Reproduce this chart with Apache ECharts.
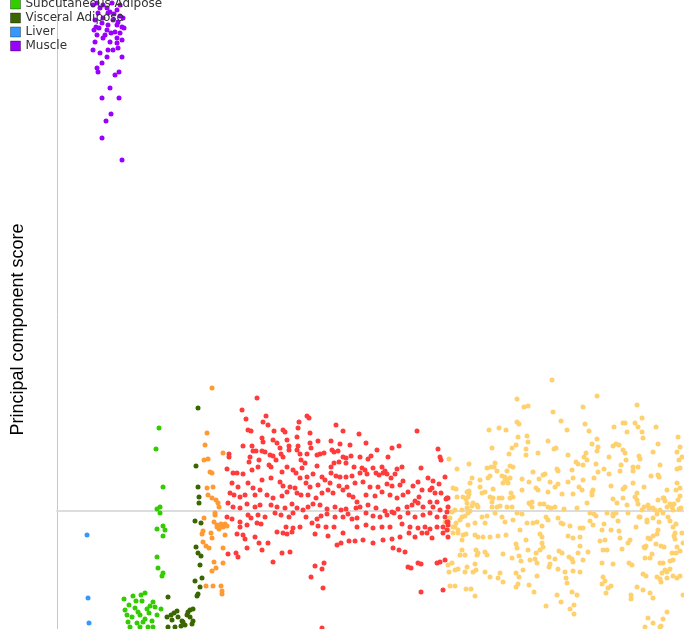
<!DOCTYPE html>
<html>
<head>
<meta charset="utf-8">
<script src="https://cdn.jsdelivr.net/npm/echarts@6/dist/echarts.min.js"></script>
<style>
html,body{margin:0;padding:0;background:#fff;}
#chart{width:684px;height:629px;}
</style>
</head>
<body>
<div id="chart"></div>
<script>
// [sample index, principal component score]
const legendNames = ['Subcutaneous Adipose', 'Visceral Adipose', 'Liver', 'Muscle'];
const yAxisTitle = 'Principal component score';

const muscle = [[40,508],[46,506],[53,499],[41,498],[66,493],[38,491],[45,488],[51,486],[60,486],[65,484],[50,481],[58,479],[63,478],[40,476],[46,473],[53,469],[60,468],[65,471],[36,461],[43,458],[51,461],[56,461],[61,463],[65,454],[50,454],[45,448],[40,443],[41,439],[58,436],[62,439],[53,423],[45,413],[62,413],[54,397],[49,390],[45,373],[65,351],[36,506],[43,503],[60,501],[55,508],[63,495],[46,493],[51,498],[39,484],[37,481],[42,483],[56,491],[61,489],[48,476],[54,478],[38,469],[60,473],[67,483],[50,503],[57,497],[63,506]];

const liver = [[30,-24],[31,-87],[32,-112]];

const subcutaneous = [[102,83],[99,62],[106,24],[103,4],[100,2],[103,-2],[100,-18],[106,-15],[108,-19],[106,-25],[100,-46],[101,-57],[106,-62],[105,-65],[67,-88],[76,-85],[84,-84],[88,-82],[85,-90],[96,-91],[68,-99],[78,-97],[90,-98],[98,-96],[104,-98],[70,-104],[75,-106],[83,-104],[92,-102],[100,-104],[71,-111],[80,-112],[86,-111],[95,-110],[73,-116],[83,-116],[91,-116],[96,-116],[72,-94],[81,-101],[88,-108],[93,-95],[79,-90]];

const visceral = [[141,103],[139,45],[141,24],[142,14],[142,8],[138,-10],[144,-12],[139,-36],[141,-42],[144,-45],[143,-54],[138,-70],[145,-67],[143,-76],[141,-83],[140,-85],[111,-86],[110,-106],[117,-102],[115,-109],[121,-106],[125,-110],[130,-104],[133,-99],[136,-98],[133,-106],[136,-110],[128,-114],[111,-116],[118,-116],[114,-104],[120,-100],[126,-111],[124,-115],[131,-101],[135,-113]];

const orangeGroup = [[155,123],[150,78],[148,66],[147,51],[151,52],[166,58],[153,39],[155,38],[150,23],[156,24],[151,16],[155,13],[159,11],[161,8],[162,4],[158,-2],[158,-4],[147,-7],[160,-14],[164,-13],[168,-13],[162,-18],[146,-20],[154,-22],[145,-23],[155,-27],[168,-24],[146,-31],[149,-35],[152,-37],[166,-37],[157,-51],[166,-52],[159,-57],[155,-60],[149,-75],[156,-75],[164,-75],[165,-80],[165,-83],[163,-15],[170,-15],[166,-16],[160,-16],[157,-11]];

const redGroup = [[200,113],[185,101],[189,92],[209,95],[206,89],[211,86],[250,95],[252,93],[242,89],[279,86],[286,80],[302,77],[360,80],[191,81],[194,80],[217,80],[226,81],[228,79],[241,83],[253,78],[205,73],[206,69],[216,71],[220,68],[230,71],[240,74],[186,65],[195,65],[223,63],[232,65],[232,61],[241,65],[240,61],[253,68],[254,63],[261,70],[274,70],[283,67],[293,66],[275,61],[277,59],[281,60],[309,68],[320,61],[335,63],[342,65],[381,62],[172,57],[172,54],[196,60],[199,60],[205,60],[208,59],[213,56],[216,55],[224,57],[226,54],[243,57],[250,57],[260,56],[263,57],[267,58],[286,54],[289,53],[294,55],[303,54],[311,52],[314,55],[331,54],[383,54],[384,51],
[193,54],[192,49],[202,51],[212,46],[214,44],[219,51],[230,44],[236,41],[244,51],[248,48],[245,43],[260,45],[274,44],[277,48],[282,49],[289,48],[297,44],[305,43],[308,41],[316,43],[325,44],[326,38],[328,40],[340,42],[345,44],[364,43],[170,42],[176,38],[180,38],[186,37],[195,41],[201,44],[225,39],[239,38],[243,33],[250,34],[256,37],[265,34],[274,38],[279,35],[283,34],[289,34],[295,35],[303,38],[310,37],[319,38],[322,36],[330,37],[334,33],[338,37],[346,30],[356,25],[361,29],[371,33],[376,30],[382,27],[375,23],[384,18],[391,13],
[175,28],[181,24],[191,28],[196,23],[205,31],[214,33],[223,29],[226,25],[233,24],[238,23],[249,28],[253,24],[261,26],[268,31],[273,28],[282,25],[290,24],[298,28],[306,29],[313,24],[321,24],[330,27],[335,25],[343,26],[351,19],[365,21],[373,21],[378,18],[173,18],[177,16],[183,14],[188,16],[198,16],[203,21],[210,16],[216,13],[225,15],[230,19],[240,18],[244,16],[251,16],[259,13],[265,18],[271,21],[276,18],[286,21],[292,16],[296,14],[300,9],[309,16],[318,15],[325,19],[333,16],[340,13],[346,16],[358,10],[362,14],[373,9],[380,9],[389,12],
[171,8],[176,4],[183,3],[190,7],[198,4],[203,6],[214,6],[220,4],[228,3],[235,7],[240,3],[246,1],[251,4],[256,7],[263,6],[270,2],[278,4],[284,1],[289,2],[299,3],[303,4],[311,6],[319,3],[328,0],[335,-1],[341,2],[350,4],[355,6],[361,8],[366,4],[376,4],[383,1],[390,-1],[170,-6],[175,-8],[183,-11],[191,-4],[194,-7],[201,-4],[208,-6],[218,-2],[224,-4],[232,-6],[236,-2],[249,-6],[260,-8],[264,-5],[270,-3],[278,-6],[286,-6],[291,-3],[300,-7],[309,-2],[316,-5],[323,-6],[330,-4],[337,-2],[343,-6],[351,-2],[358,-6],[366,-4],[373,-2],[380,-6],[388,-6],
[183,-16],[190,-14],[200,-12],[204,-13],[220,-21],[229,-16],[236,-17],[243,-16],[255,-12],[261,-15],[269,-16],[277,-16],[295,-8],[300,-16],[309,-14],[316,-17],[325,-16],[333,-16],[345,-13],[353,-16],[361,-17],[368,-16],[373,-18],[380,-16],[386,-16],[391,-11],[180,-23],[186,-24],[188,-28],[198,-26],[226,-22],[230,-23],[235,-21],[258,-23],[271,-25],[286,-22],[298,-30],[306,-29],[316,-32],[326,-29],[335,-28],[343,-26],[352,-22],[358,-26],[365,-22],[370,-22],[375,-27],[386,-22],[202,-32],[211,-32],[205,-39],[190,-37],[179,-42],[181,-46],[171,-43],[233,-41],[225,-42],[280,-34],[284,-32],[292,-30],[336,-37],[342,-39],[348,-41],[216,-51],[258,-55],[265,-58],[267,-52],[254,-66],[266,-77],[351,-56],[354,-57],[361,-52],[364,-53],[380,-52],[383,-51],[364,-81],[386,-79],[265,-117],
[388,34],[390,13],[391,4],[390,-11],[391,-14],[390,-19],[391,-26],[388,-49]];

const yellowGroup = [[495,131],[540,115],[460,112],[580,106],[467,104],[471,105],[526,104],[496,99],[585,93],[460,89],[462,87],[504,90],[528,87],[566,88],[568,88],[578,88],[432,81],[442,83],[449,81],[510,81],[532,80],[557,84],[570,79],[581,84],[585,79],[599,84],[461,74],[470,75],[491,70],[471,69],[540,72],[586,73],[621,74],[435,63],[455,63],[459,66],[469,62],[497,62],[499,63],[535,67],[541,64],[540,60],[556,65],[559,67],[562,66],[566,61],[568,58],[601,67],[596,59],[620,59],[623,64],[452,57],[469,56],[481,58],[511,56],[519,49],[521,47],[527,54],[529,58],[530,51],[526,46],[539,47],[552,54],[569,51],[583,52],[582,55],[603,46],[622,51],[625,54],[412,47],[392,52],[430,43],[434,44],[438,48],[437,44],[440,40],[453,45],[450,40],[456,44],[476,39],[486,36],[488,37],[500,42],[501,40],[515,41],[537,33],[541,39],[547,42],[552,37],[563,40],[564,46],[576,44],[576,40],[581,44],[594,35],[601,36],[602,34],[620,42],[620,28],
[415,33],[423,31],[431,33],[433,35],[445,35],[448,34],[450,31],[453,33],[446,28],[451,28],[448,31],[465,32],[472,29],[482,32],[493,29],[501,27],[498,24],[511,29],[516,33],[522,24],[526,31],[554,25],[566,22],[568,24],[576,28],[580,18],[587,24],[610,21],[623,23],[396,23],[399,22],[410,19],[406,14],[411,14],[423,24],[425,18],[428,19],[436,22],[433,14],[436,13],[442,13],[445,13],[435,9],[454,18],[456,14],[453,13],[465,21],[472,8],[475,9],[479,23],[481,21],[491,19],[505,17],[516,17],[525,21],[535,19],[536,21],[535,16],[556,12],[560,8],[566,13],[570,6],[578,14],[580,11],[581,7],[591,6],[601,11],[606,13],[608,10],[615,5],[617,7],[621,11],
[416,8],[415,5],[391,4],[398,1],[410,3],[413,0],[405,1],[420,6],[421,4],[435,4],[440,4],[443,5],[450,4],[455,4],[460,-2],[465,-3],[473,7],[475,4],[483,7],[487,7],[491,4],[494,3],[498,4],[507,2],[520,3],[530,8],[533,-2],[537,-3],[539,-5],[550,-2],[556,-3],[559,-2],[571,-2],[585,1],[587,4],[583,-6],[592,3],[603,1],[606,-2],[610,4],[613,7],[615,4],[622,2],
[395,-1],[405,-6],[408,-5],[399,-12],[403,-9],[396,-16],[388,-11],[393,-7],[411,-14],[418,-12],[425,-6],[430,-5],[428,-12],[438,-2],[445,-6],[448,-11],[456,-9],[470,-12],[476,-12],[480,-11],[485,-15],[489,-6],[491,-9],[501,-7],[504,-12],[506,-13],[513,-15],[523,-17],[526,-17],[533,-10],[536,-14],[545,-19],[547,-13],[554,-19],[556,-5],[561,-10],[562,-20],[579,-16],[582,-6],[590,-9],[596,-7],[601,-19],[611,-6],[613,-10],[616,-16],[619,-13],
[391,-19],[396,-22],[401,-22],[406,-24],[409,-23],[418,-24],[421,-26],[426,-26],[433,-26],[441,-25],[449,-24],[463,-19],[469,-29],[483,-23],[485,-26],[511,-25],[516,-27],[523,-26],[543,-30],[548,-29],[563,-27],[573,-29],[571,-32],[591,-27],[596,-25],[600,-23],[589,-35],[588,-37],[604,-35],[618,-28],[620,-36],
[405,-39],[408,-44],[403,-44],[419,-39],[421,-42],[430,-44],[428,-41],[446,-43],[459,-33],[460,-37],[455,-47],[462,-45],[464,-50],[471,-39],[479,-42],[483,-39],[478,-48],[480,-52],[485,-32],[486,-36],[492,-46],[498,-48],[493,-53],[502,-40],[505,-42],[512,-46],[515,-48],[516,-51],[521,-42],[523,-35],[526,-49],[531,-41],[545,-52],[546,-39],[550,-39],[556,-53],[565,-38],[572,-52],[575,-54],[588,-47],[587,-36],[595,-43],[606,-52],[615,-42],[616,-49],[623,-40],
[391,-54],[395,-52],[392,-61],[398,-59],[401,-58],[408,-61],[410,-56],[416,-61],[419,-59],[418,-53],[428,-61],[433,-66],[443,-62],[441,-67],[446,-71],[459,-62],[462,-66],[466,-59],[473,-49],[480,-65],[492,-56],[501,-58],[508,-61],[509,-67],[510,-72],[516,-60],[523,-61],[546,-66],[548,-70],[545,-73],[551,-77],[554,-75],[549,-82],[574,-84],[574,-88],[586,-63],[589,-65],[600,-66],[603,-68],[605,-62],[608,-59],[613,-58],[610,-67],[620,-67],[623,-65],
[393,-75],[398,-75],[409,-78],[414,-78],[418,-85],[459,-76],[461,-73],[472,-74],[477,-81],[489,-95],[500,-84],[504,-91],[515,-81],[513,-98],[520,-84],[517,-94],[517,-103],[580,-76],[586,-79],[593,-82],[596,-87],[591,-107],[596,-112],[606,-108],[610,-101],[604,-115],[626,-84],
[623,43],[623,15],[619,21],[607,13],[596,3],[598,1],[600,-3],[616,1],[624,3],[602,-11],[590,-11],[618,-22],[617,-25],[625,-22],[626,-32],[593,-28],[599,-33],[607,-36],[619,-42],[593,-47],[603,-52],[613,-50],[610,-61],[616,-65],[604,-71],[603,-116],[588,-116],
[400,42],[400,14],[411,-2],[398,-16],[401,-19],[405,-29],[420,-44],[413,28],[412,20],[412,17],[409,12],[410,8]];

const xMin = 0, xMax = 627, yMin = -118, yMax = 511;

const chart = echarts.init(document.getElementById('chart'), null, {renderer: 'canvas'});

function sc(name, data, color) {
  return {
    name: name, type: 'scatter', data: data, symbolSize: 5,
    itemStyle: {color: color, opacity: 1},
    emphasis: {disabled: true}
  };
}

chart.setOption({
  animation: false,
  backgroundColor: '#ffffff',
  grid: {left: 57, right: 0, top: 0, bottom: 0, containLabel: false},
  legend: {
    orient: 'vertical', left: 10, top: -2, padding: 0,
    itemWidth: 10, itemHeight: 10, itemGap: 2,
    icon: 'rect',
    data: legendNames,
    itemStyle: {borderColor: 'rgba(0,0,0,0.35)', borderWidth: 1},
    textStyle: {fontFamily: 'DejaVu Sans', fontSize: 12, color: '#333', padding: [0,0,0,0]},
    selectedMode: false
  },
  xAxis: {
    type: 'value', min: xMin, max: xMax,
    axisLine: {show: true, onZero: true, lineStyle: {color: '#dddddd', width: 2}},
    axisTick: {show: false}, axisLabel: {show: false}, splitLine: {show: false}
  },
  yAxis: {
    type: 'value', min: yMin, max: yMax,
    name: yAxisTitle, nameLocation: 'middle', nameGap: 30,
    nameTextStyle: {fontFamily: 'Liberation Sans', fontSize: 18, color: '#000', padding: [0, 30, 0, 0]},
    axisLine: {show: true, lineStyle: {color: '#c8c8c8', width: 1}},
    axisTick: {show: false}, axisLabel: {show: false}, splitLine: {show: false}
  },
  series: [
    sc('Group Y', yellowGroup, '#ffd06e'),
    sc('Group R', redGroup, '#ff3b3b'),
    sc('Group O', orangeGroup, '#ff9a33'),
    sc('Visceral Adipose', visceral, '#3a6600'),
    sc('Subcutaneous Adipose', subcutaneous, '#33cc00'),
    sc('Liver', liver, '#3399ff'),
    sc('Muscle', muscle, '#9900ff')
  ]
});
</script>
</body>
</html>
